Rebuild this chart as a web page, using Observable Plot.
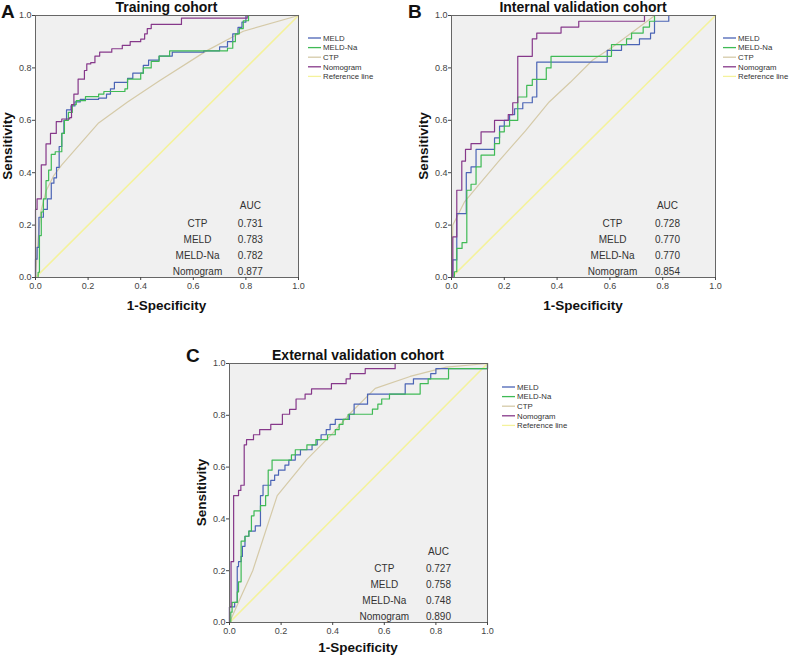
<!DOCTYPE html>
<html><head><meta charset="utf-8">
<script src="https://cdn.jsdelivr.net/npm/d3@7"></script>
<script src="https://cdn.jsdelivr.net/npm/@observablehq/plot@0.6"></script>
<style>
body{margin:0;background:#fff;}
#fig{position:relative;width:790px;height:657px;background:#fff;overflow:hidden;}
#fig svg{position:absolute;overflow:visible;}
</style></head><body><div id="fig"></div>
<script>
// ---------- data ----------
const ticks = [0, 0.2, 0.4, 0.6, 0.8, 1.0];
const tickLabels = ["0.0", "0.2", "0.4", "0.6", "0.8", "1.0"];
const seriesNames = ["MELD", "MELD-Na", "CTP", "Nomogram", "Reference line"];
const aucLabels = ["CTP", "MELD", "MELD-Na", "Nomogram"];
const aucA = [0.731, 0.783, 0.782, 0.877];
const aucB = [0.728, 0.770, 0.770, 0.854];
const aucC = [0.727, 0.758, 0.748, 0.890];
const titles = ["Training cohort", "Internal validation cohort", "External validation cohort"];
const letters = ["A", "B", "C"];
const reference = [[0, 0], [1, 1]];

// Panel A (x = 1-specificity, y = sensitivity)
const meldA = [[0,0],[0,0.07],[0.006,0.115],[0.013,0.23],[0.03,0.26],[0.045,0.30],[0.06,0.36],[0.07,0.38],[0.08,0.42],[0.09,0.5],[0.1,0.55],[0.108,0.6],[0.118,0.64],[0.135,0.655],[0.15,0.67],[0.17,0.68],[0.24,0.685],[0.27,0.70],[0.285,0.72],[0.3,0.745],[0.35,0.76],[0.37,0.78],[0.41,0.81],[0.43,0.83],[0.47,0.845],[0.52,0.86],[0.64,0.865],[0.70,0.88],[0.73,0.9],[0.75,0.93],[0.77,0.955],[0.785,0.975],[0.8,1.0],[1,1]];
const meldNaA = [[0,0],[0.01,0.02],[0.015,0.16],[0.022,0.25],[0.03,0.3],[0.04,0.37],[0.05,0.41],[0.06,0.47],[0.075,0.48],[0.1,0.55],[0.11,0.6],[0.125,0.63],[0.14,0.66],[0.155,0.675],[0.19,0.69],[0.24,0.7],[0.26,0.71],[0.34,0.72],[0.35,0.757],[0.40,0.78],[0.41,0.80],[0.44,0.825],[0.47,0.845],[0.51,0.865],[0.73,0.875],[0.75,0.9],[0.76,0.93],[0.775,0.95],[0.79,0.98],[0.81,1.0],[1,1]];
const ctpA = [[0,0],[0.01,0.15],[0.02,0.25],[0.04,0.33],[0.07,0.39],[0.1,0.43],[0.24,0.59],[0.35,0.67],[0.47,0.75],[0.65,0.865],[0.79,0.94],[1,1]];
const nomoA = [[0,0],[0,0.26],[0.006,0.30],[0.022,0.43],[0.04,0.51],[0.057,0.55],[0.079,0.595],[0.10,0.605],[0.13,0.61],[0.137,0.66],[0.146,0.70],[0.162,0.757],[0.186,0.79],[0.195,0.815],[0.21,0.82],[0.226,0.845],[0.244,0.86],[0.29,0.873],[0.33,0.886],[0.36,0.90],[0.40,0.91],[0.415,0.93],[0.425,0.95],[0.44,0.966],[0.555,0.99],[0.805,1.0],[1,1]];

// Panel B
const meldB = [[0,0],[0.005,0.067],[0.02,0.244],[0.056,0.4],[0.074,0.422],[0.093,0.489],[0.163,0.533],[0.182,0.578],[0.2,0.6],[0.22,0.622],[0.239,0.644],[0.27,0.667],[0.306,0.689],[0.323,0.822],[0.59,0.867],[0.644,0.889],[0.712,0.911],[0.754,0.933],[0.769,0.978],[0.823,1.0],[1,1]];
const meldNaB = [[0,0],[0.011,0.022],[0.02,0.111],[0.04,0.133],[0.058,0.333],[0.074,0.356],[0.093,0.422],[0.112,0.467],[0.163,0.511],[0.182,0.556],[0.2,0.578],[0.22,0.6],[0.251,0.689],[0.285,0.733],[0.306,0.756],[0.359,0.8],[0.377,0.844],[0.606,0.889],[0.663,0.911],[0.682,0.933],[0.726,0.956],[0.75,0.978],[0.769,1.0],[1,1]];
const ctpB = [[0,0],[0.005,0.2],[0.05,0.29],[0.1,0.35],[0.18,0.445],[0.28,0.56],[0.37,0.67],[0.45,0.745],[0.535,0.83],[0.61,0.88],[0.77,1.0],[1,1]];
const nomoB = [[0,0],[0.005,0.155],[0.02,0.333],[0.039,0.444],[0.053,0.489],[0.074,0.511],[0.112,0.556],[0.163,0.6],[0.215,0.622],[0.232,0.667],[0.251,0.844],[0.306,0.911],[0.323,0.933],[0.415,0.956],[0.482,0.978],[0.731,1.0],[1,1]];

// Panel C
const meldC = [[0,0],[0,0.06],[0.02,0.078],[0.03,0.216],[0.035,0.235],[0.045,0.255],[0.05,0.294],[0.06,0.333],[0.075,0.353],[0.1,0.373],[0.12,0.49],[0.13,0.53],[0.16,0.549],[0.175,0.569],[0.19,0.588],[0.215,0.608],[0.23,0.627],[0.255,0.647],[0.275,0.667],[0.32,0.686],[0.34,0.706],[0.355,0.725],[0.375,0.745],[0.39,0.765],[0.41,0.784],[0.465,0.804],[0.483,0.843],[0.535,0.882],[0.681,0.921],[0.713,0.941],[0.78,0.961],[0.80,0.98],[1,0.98],[1,1]];
const meldNaC = [[0,0],[0.005,0.04],[0.01,0.078],[0.03,0.118],[0.035,0.157],[0.045,0.314],[0.06,0.333],[0.075,0.353],[0.085,0.412],[0.095,0.431],[0.12,0.451],[0.14,0.49],[0.15,0.588],[0.165,0.627],[0.24,0.647],[0.255,0.667],[0.3,0.686],[0.335,0.706],[0.38,0.725],[0.41,0.745],[0.425,0.765],[0.44,0.784],[0.46,0.804],[0.554,0.824],[0.575,0.843],[0.59,0.863],[0.62,0.882],[0.739,0.922],[0.77,0.941],[0.849,0.98],[1,0.98],[1,1]];
const ctpC = [[0,0],[0.04,0.09],[0.09,0.2],[0.185,0.49],[0.3,0.63],[0.4,0.73],[0.47,0.81],[0.565,0.904],[0.7,0.95],[0.84,0.986],[1,1]];
const nomoC = [[0,0],[0,0.06],[0.006,0.235],[0.016,0.49],[0.035,0.51],[0.044,0.53],[0.057,0.686],[0.066,0.706],[0.093,0.725],[0.117,0.745],[0.16,0.765],[0.205,0.804],[0.233,0.823],[0.258,0.863],[0.293,0.882],[0.318,0.902],[0.395,0.922],[0.452,0.941],[0.468,0.961],[0.526,0.98],[0.642,1.0],[1,1]];

// ---------- styling / layout ----------
const colors = ["#4b64b5", "#3fba55", "#d5caa8", "#86388a", "#f4f29c"];
const FONT = "'Liberation Sans', Arial, Helvetica, sans-serif";
const aucRowY = [0.206, 0.145, 0.082, 0.022]; // row positions (layout)
const aucHeadY = 0.272;

const panels = [
  {left: 0, top: 0, w: 395, h: 320, ml: 35, mr: 97, mt: 15, mb: 43,
   meld: meldA, meldNa: meldNaA, ctp: ctpA, nomo: nomoA, auc: aucA, title: titles[0], letter: letters[0],
   letterX: 1, letterY: 17.5, titleY: 12, xlabY: 310, legX: 308, legY: 38, labX: 0.616, valX: 0.817},
  {left: 395, top: 0, w: 395, h: 320, ml: 56, mr: 75, mt: 15, mb: 43,
   meld: meldB, meldNa: meldNaB, ctp: ctpB, nomo: nomoB, auc: aucB, title: titles[1], letter: letters[1],
   letterX: 13, letterY: 17.5, titleY: 12, xlabY: 310, legX: 328, legY: 38, labX: 0.61, valX: 0.818},
  {left: 170, top: 330, w: 400, h: 327, ml: 59, mr: 83, mt: 33, mb: 35,
   meld: meldC, meldNa: meldNaC, ctp: ctpC, nomo: nomoC, auc: aucC, title: titles[2], letter: letters[2],
   letterX: 16, letterY: 32, titleY: 30, xlabY: 322, legX: 332, legY: 57, labX: 0.60, valX: 0.81}
];

const fmt = d => tickLabels[ticks.findIndex(t => Math.abs(t - d) < 1e-9)];
const fig = document.getElementById("fig");

for (const p of panels) {
  const rows = aucLabels.map((l, i) => ({label: l, value: p.auc[i].toFixed(3), y: aucRowY[i]}));
  const xy = {x: d => d[0], y: d => d[1]};
  const svg = Plot.plot({
    width: p.w, height: p.h,
    marginLeft: p.ml, marginRight: p.mr, marginTop: p.mt, marginBottom: p.mb,
    x: {domain: [0, 1]}, y: {domain: [0, 1]},
    style: {fontFamily: FONT, fontSize: "9px", color: "#444", background: "transparent", overflow: "visible"},
    marks: [
      Plot.frame({fill: "#f0f0f0", stroke: null}),
      Plot.line(reference, {...xy, stroke: colors[4], strokeWidth: 1.6}),
      Plot.line(p.ctp, {...xy, stroke: colors[2], strokeWidth: 1.2}),
      Plot.line(p.meld, {...xy, curve: "step-after", stroke: colors[0], strokeWidth: 1.2}),
      Plot.line(p.meldNa, {...xy, curve: "step-after", stroke: colors[1], strokeWidth: 1.2}),
      Plot.line(p.nomo, {...xy, curve: "step-after", stroke: colors[3], strokeWidth: 1.2}),
      Plot.frame({stroke: "#666", strokeWidth: 1}),
      Plot.axisX({ticks, tickFormat: fmt, tickSize: 3, tickPadding: 2, label: null, fill: "#444"}),
      Plot.axisY({ticks, tickFormat: fmt, tickSize: 3, tickPadding: 1, label: null, fill: "#444"}),
      Plot.text(["AUC"], {x: () => p.valX, y: () => aucHeadY, fontSize: 10, fill: "#333", textAnchor: "middle"}),
      Plot.text(rows, {x: () => p.labX, y: "y", text: "label", fontSize: 10, fill: "#333", textAnchor: "middle"}),
      Plot.text(rows, {x: () => p.valX, y: "y", text: "value", fontSize: 10, fill: "#333", textAnchor: "middle"})
    ]
  });
  svg.style.left = p.left + "px";
  svg.style.top = p.top + "px";
  const s = d3.select(svg);
  const plotCX = p.ml + (p.w - p.ml - p.mr) / 2;
  const plotCY = p.mt + (p.h - p.mt - p.mb) / 2;
  s.append("text").text(p.letter).attr("x", p.letterX).attr("y", p.letterY).attr("text-anchor", "start")
    .attr("font-family", FONT).attr("font-size", 19).attr("font-weight", "bold").attr("fill", "#111");
  s.append("text").text(p.title).attr("x", plotCX).attr("y", p.titleY).attr("text-anchor", "middle")
    .attr("font-family", FONT).attr("font-size", 14).attr("font-weight", "bold").attr("fill", "#111");
  s.append("text").text("1-Specificity").attr("x", plotCX).attr("y", p.xlabY).attr("text-anchor", "middle")
    .attr("font-family", FONT).attr("font-size", 13.5).attr("font-weight", "bold").attr("fill", "#111");
  s.append("text").text("Sensitivity").attr("text-anchor", "middle")
    .attr("transform", `translate(${p.ml - 23.5},${plotCY}) rotate(-90)`)
    .attr("font-family", FONT).attr("font-size", 13.5).attr("font-weight", "bold").attr("fill", "#111");
  const leg = s.append("g");
  seriesNames.forEach((name, i) => {
    const y = p.legY + i * 9.6;
    leg.append("line").attr("x1", p.legX).attr("x2", p.legX + 13).attr("y1", y).attr("y2", y)
      .attr("stroke", colors[i]).attr("stroke-width", 1.3);
    leg.append("text").text(name).attr("x", p.legX + 15).attr("y", y).attr("dy", "0.35em")
      .attr("text-anchor", "start")
      .attr("font-family", FONT).attr("font-size", 7.8).attr("fill", "#333");
  });
  fig.appendChild(svg);
}
</script></body></html>
